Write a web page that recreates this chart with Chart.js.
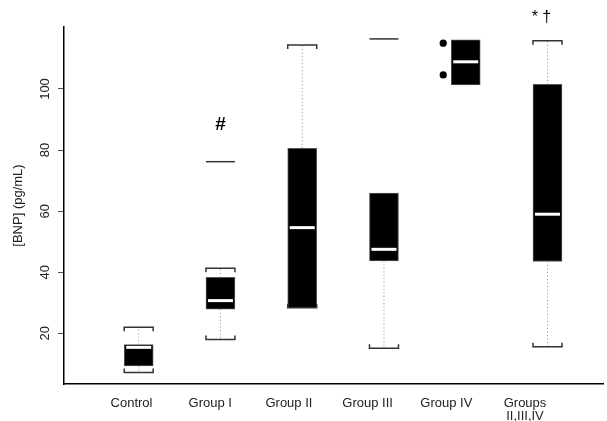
<!DOCTYPE html>
<html>
<head>
<meta charset="utf-8">
<script src="https://cdn.jsdelivr.net/npm/chart.js@4.4.0/dist/chart.umd.min.js"></script>
<style>
  body { margin: 0; background: #fff; }
  canvas { display: block; }
</style>
</head>
<body>
<canvas id="bnpChart" width="607" height="421"></canvas>
<script>
// Groups on the x axis
var categories = ['Control', 'Group I', 'Group II', 'Group III', 'Group IV', ['Groups', 'II,III,IV']];

// Box plot values, [BNP] in pg/mL
var whiskerLow = [7.2, 18.0, 28.4, 15.1, null, 15.6];
var q1 = [9.3, 27.9, 28.4, 43.7, 101.3, 43.5];
var median = [15.4, 30.7, 54.6, 47.5, 108.9, 59.0];
var q3 = [16.3, 38.3, 80.6, 65.9, 116.1, 101.5];
var whiskerHigh = [22.0, 41.3, 114.4, null, null, 115.8];

// extreme values drawn as a lone bar, outliers drawn as dots
var extremes = [[], [76.2], [], [116.4], [], []];
var outliers = [[], [], [], [], [115.0, 104.6], []];

// significance marks above the boxes
var marks = ['', '#', '', '', '', '* \u2020'];

var yTicks = [20, 40, 60, 80, 100];

var FONT = 'Liberation Sans, Arial, sans-serif';

function hline(ctx, x1, x2, y) {
    ctx.beginPath();
    ctx.moveTo(x1, y);
    ctx.lineTo(x2, y);
    ctx.stroke();
}

// whiskers, caps, medians, outliers and marks
var boxExtras = {
    id: 'boxExtras',
    afterDatasetsDraw: function(chart) {
        var ctx = chart.ctx;
        var xs = chart.scales.x;
        var ys = chart.scales.y;
        var half = 14.5;
        ctx.save();
        categories.forEach(function(c, i) {
            var cx = xs.getPixelForValue(i);
            var yq1 = ys.getPixelForValue(q1[i]);
            var yq3 = ys.getPixelForValue(q3[i]);

            // dotted whiskers
            ctx.strokeStyle = '#8c8c8c';
            ctx.lineWidth = 1;
            ctx.setLineDash([1, 2.5]);
            if (whiskerHigh[i] != null) {
                ctx.beginPath();
                ctx.moveTo(cx, yq3);
                ctx.lineTo(cx, ys.getPixelForValue(whiskerHigh[i]));
                ctx.stroke();
            }
            if (whiskerLow[i] != null) {
                ctx.beginPath();
                ctx.moveTo(cx, yq1);
                ctx.lineTo(cx, ys.getPixelForValue(whiskerLow[i]));
                ctx.stroke();
            }
            ctx.setLineDash([]);

            // bracket caps
            ctx.strokeStyle = '#333';
            ctx.lineWidth = 1.5;
            if (whiskerHigh[i] != null) {
                var yh = ys.getPixelForValue(whiskerHigh[i]);
                ctx.beginPath();
                ctx.moveTo(cx - half, yh + 4);
                ctx.lineTo(cx - half, yh);
                ctx.lineTo(cx + half, yh);
                ctx.lineTo(cx + half, yh + 4);
                ctx.stroke();
            }
            if (whiskerLow[i] != null) {
                var yl = ys.getPixelForValue(whiskerLow[i]);
                ctx.beginPath();
                ctx.moveTo(cx - half, yl - 4);
                ctx.lineTo(cx - half, yl);
                ctx.lineTo(cx + half, yl);
                ctx.lineTo(cx + half, yl - 4);
                ctx.stroke();
            }

            // lone extreme bars
            extremes[i].forEach(function(v) {
                hline(ctx, cx - half, cx + half, ys.getPixelForValue(v));
            });

            // median
            ctx.fillStyle = '#fff';
            ctx.fillRect(cx - half + 2, ys.getPixelForValue(median[i]) - 1.5, 2 * half - 4, 3);

            // outlier dots, set to the left of the box
            ctx.fillStyle = '#000';
            outliers[i].forEach(function(v) {
                ctx.beginPath();
                ctx.arc(cx - 22.5, ys.getPixelForValue(v), 3.6, 0, Math.PI * 2);
                ctx.fill();
            });
        });

        // significance marks
        ctx.fillStyle = '#000';
        ctx.textAlign = 'center';
        ctx.textBaseline = 'middle';
        marks.forEach(function(m, i) {
            if (!m) return;
            var cx = xs.getPixelForValue(i);
            var top = Math.max.apply(null, [q3[i], whiskerHigh[i] || 0].concat(extremes[i]));
            if (m === '#') {
                ctx.font = 'bold 19px ' + FONT;
                ctx.fillText(m, cx, ys.getPixelForValue(top) - 37);
            } else {
                ctx.font = '16px ' + FONT;
                ctx.fillText(m, cx - 6, ys.getPixelForValue(top) - 23);
            }
        });

        // y tick labels, turned to read upward
        ctx.fillStyle = '#222';
        ctx.font = '13px ' + FONT;
        yTicks.forEach(function(v) {
            ctx.save();
            ctx.translate(45, ys.getPixelForValue(v));
            ctx.rotate(-Math.PI / 2);
            ctx.fillText(String(v), 0, 0);
            ctx.restore();
        });
        ctx.restore();
    }
};

var boxData = categories.map(function(c, i) {
    return { x: i, y: [q1[i], q3[i]] };
});

var bnpChart = new Chart(document.getElementById('bnpChart'), {
    type: 'bar',
    data: {
        datasets: [{
            data: boxData,
            backgroundColor: '#000',
            borderColor: '#555',
            borderWidth: 1,
            borderSkipped: false,
            barThickness: 29,
            xAxisID: 'x',
            yAxisID: 'y'
        }]
    },
    options: {
        responsive: false,
        animation: false,
        layout: { padding: { top: 27, right: 4, left: 0, bottom: 0 } },
        plugins: { legend: { display: false }, tooltip: { enabled: false } },
        scales: {
            x: {
                type: 'linear',
                position: 'bottom',
                offset: false,
                min: -0.9136,
                max: 5.679,
                ticks: { display: false },
                grid: { display: false, drawTicks: false, offset: false },
                border: { display: true, color: '#000', width: 1.5 },
                afterFit: function(s) { s.height = 0; }
            },
            xLabels: {
                type: 'linear',
                position: 'bottom',
                offset: false,
                min: -0.858,
                max: 5.991,
                afterBuildTicks: function(s) {
                    s.ticks = categories.map(function(c, i) { return { value: i }; });
                },
                ticks: {
                    autoSkip: false,
                    maxRotation: 0,
                    padding: 13,
                    color: '#222',
                    font: { family: FONT, size: 13, lineHeight: 1.0 },
                    callback: function(v) { return categories[v]; }
                },
                grid: { display: false, drawTicks: false, offset: false },
                border: { display: false },
                afterFit: function(s) { s.height = 37; }
            },
            y: {
                type: 'linear',
                min: 3.4,
                max: 120.3,
                afterBuildTicks: function(s) {
                    s.ticks = yTicks.map(function(v) { return { value: v }; });
                },
                ticks: { display: false },
                grid: { display: true, drawOnChartArea: false, drawTicks: true, tickLength: 6, color: '#555', lineWidth: 1 },
                border: { display: true, color: '#000', width: 1.5 },
                title: {
                    display: true,
                    text: '[BNP] (pg/mL)',
                    color: '#222',
                    font: { family: FONT, size: 13, lineHeight: 1.2 },
                    padding: { top: 11, bottom: 0 }
                },
                afterFit: function(s) { s.width = 64; }
            }
        }
    },
    plugins: [boxExtras]
});
</script>
</body>
</html>
